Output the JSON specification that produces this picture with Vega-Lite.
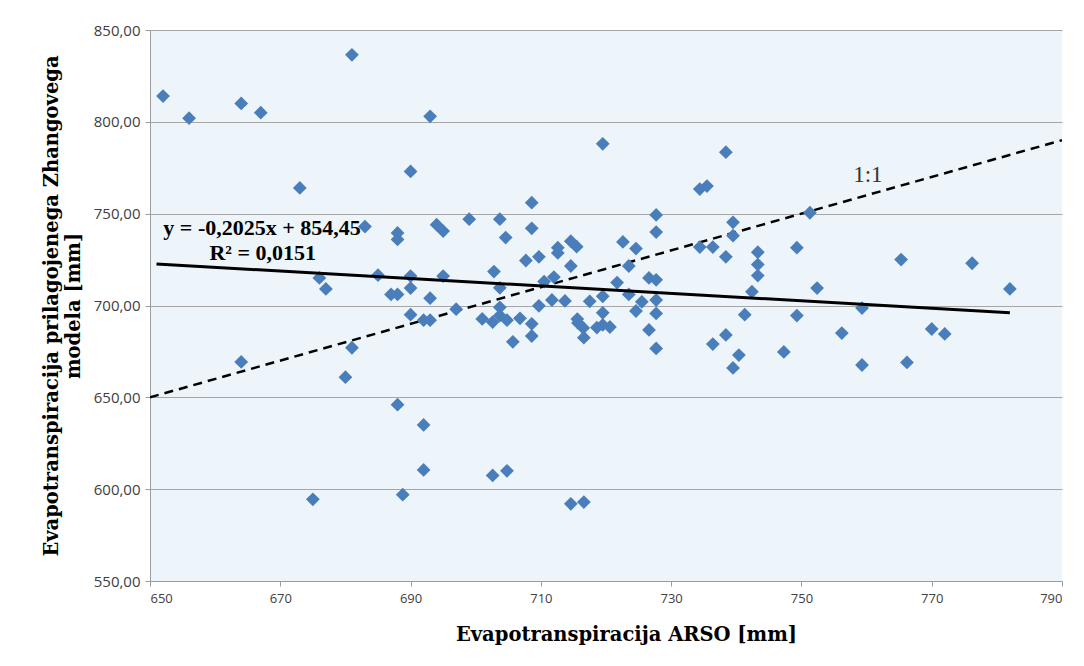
{
  "$schema": "https://vega.github.io/schema/vega-lite/v6.json",
  "width": 912,
  "height": 551,
  "autosize": {"type": "none"},
  "padding": {"left": 150, "top": 30, "right": 22, "bottom": 85},
  "background": "white",
  "config": {
    "view": {"fill": "#EDF5FA", "stroke": null},
    "axis": {
      "labelFont": "Open Sans",
      "labelFontSize": 13,
      "labelColor": "#404040",
      "titleFont": "DejaVu Serif",
      "titleFontWeight": "bold",
      "titleFontSize": 19.5,
      "titleColor": "#000000",
      "domainColor": "#9C9C9C",
      "tickColor": "#9C9C9C",
      "gridColor": "#A6A6A6",
      "gridWidth": 1
    }
  },
  "datasets": {
    "pts": [
      {"arso": 652, "zhang": 814}, {"arso": 656, "zhang": 802}, {"arso": 664, "zhang": 810}, {"arso": 667, "zhang": 805},
      {"arso": 681, "zhang": 836.5}, {"arso": 693, "zhang": 803}, {"arso": 673, "zhang": 764}, {"arso": 690, "zhang": 773},
      {"arso": 719.5, "zhang": 788}, {"arso": 738.4, "zhang": 783.5}, {"arso": 683, "zhang": 743}, {"arso": 688, "zhang": 739.5},
      {"arso": 688, "zhang": 736}, {"arso": 694, "zhang": 744}, {"arso": 695, "zhang": 740.5}, {"arso": 699, "zhang": 747},
      {"arso": 703.7, "zhang": 747}, {"arso": 708.6, "zhang": 756}, {"arso": 708.6, "zhang": 742}, {"arso": 704.6, "zhang": 737},
      {"arso": 676, "zhang": 715}, {"arso": 677, "zhang": 709}, {"arso": 685, "zhang": 716.5}, {"arso": 690, "zhang": 716},
      {"arso": 690, "zhang": 709.5}, {"arso": 687, "zhang": 706}, {"arso": 688, "zhang": 706}, {"arso": 693, "zhang": 704},
      {"arso": 695, "zhang": 716}, {"arso": 697, "zhang": 698}, {"arso": 702.8, "zhang": 718.5}, {"arso": 707.7, "zhang": 724.5},
      {"arso": 709.7, "zhang": 726.5}, {"arso": 712.6, "zhang": 731.5}, {"arso": 712.6, "zhang": 728.6}, {"arso": 714.6, "zhang": 735},
      {"arso": 715.5, "zhang": 732}, {"arso": 714.6, "zhang": 721.5}, {"arso": 703.7, "zhang": 709.6}, {"arso": 710.5, "zhang": 713},
      {"arso": 712, "zhang": 715.5}, {"arso": 690, "zhang": 695}, {"arso": 692, "zhang": 692}, {"arso": 693, "zhang": 692},
      {"arso": 701, "zhang": 692.7}, {"arso": 702.6, "zhang": 691}, {"arso": 703.7, "zhang": 694.5}, {"arso": 704.8, "zhang": 692},
      {"arso": 703.7, "zhang": 699}, {"arso": 706.8, "zhang": 693}, {"arso": 708.6, "zhang": 690}, {"arso": 708.6, "zhang": 683.4},
      {"arso": 705.7, "zhang": 680.2}, {"arso": 709.7, "zhang": 699.8}, {"arso": 711.7, "zhang": 703}, {"arso": 713.7, "zhang": 702.5},
      {"arso": 715.6, "zhang": 692.6}, {"arso": 715.7, "zhang": 690.5}, {"arso": 716.5, "zhang": 687.8}, {"arso": 716.6, "zhang": 682.5},
      {"arso": 718.6, "zhang": 688}, {"arso": 719.5, "zhang": 689.4}, {"arso": 720.6, "zhang": 688.3}, {"arso": 719.5, "zhang": 696},
      {"arso": 717.5, "zhang": 702.3}, {"arso": 719.5, "zhang": 705}, {"arso": 721.7, "zhang": 712.5}, {"arso": 723.5, "zhang": 721.5},
      {"arso": 722.6, "zhang": 734.6}, {"arso": 724.6, "zhang": 731}, {"arso": 723.5, "zhang": 706}, {"arso": 725.5, "zhang": 702},
      {"arso": 724.6, "zhang": 697}, {"arso": 726.6, "zhang": 715}, {"arso": 727.7, "zhang": 714}, {"arso": 727.7, "zhang": 749.3},
      {"arso": 727.7, "zhang": 740}, {"arso": 727.7, "zhang": 703}, {"arso": 727.7, "zhang": 695.7}, {"arso": 726.6, "zhang": 686.7},
      {"arso": 727.7, "zhang": 676.6}, {"arso": 734.4, "zhang": 763.4}, {"arso": 735.5, "zhang": 765}, {"arso": 734.4, "zhang": 731.8},
      {"arso": 736.4, "zhang": 731.8}, {"arso": 738.4, "zhang": 726.5}, {"arso": 739.5, "zhang": 745.3}, {"arso": 739.5, "zhang": 738},
      {"arso": 743.3, "zhang": 729}, {"arso": 743.3, "zhang": 722.3}, {"arso": 743.3, "zhang": 716.3}, {"arso": 742.4, "zhang": 707.5},
      {"arso": 741.3, "zhang": 695}, {"arso": 738.4, "zhang": 684}, {"arso": 736.4, "zhang": 679}, {"arso": 740.4, "zhang": 673},
      {"arso": 739.5, "zhang": 666}, {"arso": 751.3, "zhang": 750.5}, {"arso": 749.3, "zhang": 731.5}, {"arso": 765.3, "zhang": 725},
      {"arso": 776.2, "zhang": 723}, {"arso": 752.4, "zhang": 709.5}, {"arso": 782, "zhang": 709}, {"arso": 749.3, "zhang": 694.5},
      {"arso": 759.3, "zhang": 698.6}, {"arso": 756.2, "zhang": 685}, {"arso": 747.3, "zhang": 674.7}, {"arso": 759.3, "zhang": 667.6},
      {"arso": 766.2, "zhang": 669}, {"arso": 770, "zhang": 687.2}, {"arso": 772, "zhang": 684.5}, {"arso": 664, "zhang": 669.3},
      {"arso": 681, "zhang": 677}, {"arso": 680, "zhang": 661}, {"arso": 688, "zhang": 646}, {"arso": 692, "zhang": 635},
      {"arso": 692, "zhang": 610.5}, {"arso": 688.8, "zhang": 597}, {"arso": 675, "zhang": 594.5}, {"arso": 702.6, "zhang": 607.5},
      {"arso": 704.8, "zhang": 610}, {"arso": 714.6, "zhang": 592}, {"arso": 716.6, "zhang": 593}
    ],
    "trend": [{"arso": 651, "zhang": 722.62}, {"arso": 782, "zhang": 696.1}],
    "oneone": [{"arso": 650, "zhang": 650}, {"arso": 790, "zhang": 790}],
    "eq": [
      {"arso": 667.2, "zhang": 742.2, "label": "y = -0,2025x + 854,45"},
      {"arso": 667.3, "zhang": 728.6, "label": "R² = 0,0151"}
    ],
    "lbl": [{"arso": 760.2, "zhang": 771.1, "label": "1:1"}]
  },
  "layer": [
    {
      "data": {"name": "oneone"},
      "mark": {"type": "line", "color": "#000000", "strokeWidth": 2.5, "strokeDash": [9, 6], "clip": true},
      "encoding": {
        "x": {
          "field": "arso", "type": "quantitative",
          "scale": {"domain": [650, 790], "nice": false, "zero": false},
          "axis": {
            "title": "Evapotranspiracija ARSO [mm]",
            "values": [650, 670, 690, 710, 730, 750, 770, 790],
            "grid": false, "tickSize": 5, "labelPadding": 6, "titlePadding": 20, "titleX": 476
          }
        },
        "y": {
          "field": "zhang", "type": "quantitative",
          "scale": {"domain": [550, 850], "nice": false, "zero": false},
          "axis": {
            "title": ["Evapotranspiracija prilagojenega Zhangovega", "modela [mm]"],
            "values": [550, 600, 650, 700, 750, 800, 850],
            "labelExpr": "replace(format(datum.value, '.2f'), '.', ',')",
            "labelFontSize": 15,
            "grid": true, "tickSize": 5, "labelPadding": 5, "titlePadding": 10, "titleLineHeight": 22
          }
        }
      }
    },
    {
      "data": {"name": "pts"},
      "mark": {"type": "point", "shape": "diamond", "filled": true, "size": 190, "color": "#4A7EBB", "opacity": 1},
      "encoding": {
        "x": {"field": "arso", "type": "quantitative"},
        "y": {"field": "zhang", "type": "quantitative"}
      }
    },
    {
      "data": {"name": "trend"},
      "mark": {"type": "line", "color": "#000000", "strokeWidth": 3},
      "encoding": {
        "x": {"field": "arso", "type": "quantitative"},
        "y": {"field": "zhang", "type": "quantitative"}
      }
    },
    {
      "data": {"name": "eq"},
      "mark": {"type": "text", "font": "Liberation Serif", "fontWeight": "bold", "fontSize": 22, "color": "#000000", "align": "center", "baseline": "middle"},
      "encoding": {
        "x": {"field": "arso", "type": "quantitative"},
        "y": {"field": "zhang", "type": "quantitative"},
        "text": {"field": "label"}
      }
    },
    {
      "data": {"name": "lbl"},
      "mark": {"type": "text", "font": "Liberation Serif", "fontSize": 23, "color": "#333333", "align": "center", "baseline": "middle"},
      "encoding": {
        "x": {"field": "arso", "type": "quantitative"},
        "y": {"field": "zhang", "type": "quantitative"},
        "text": {"field": "label"}
      }
    }
  ]
}
